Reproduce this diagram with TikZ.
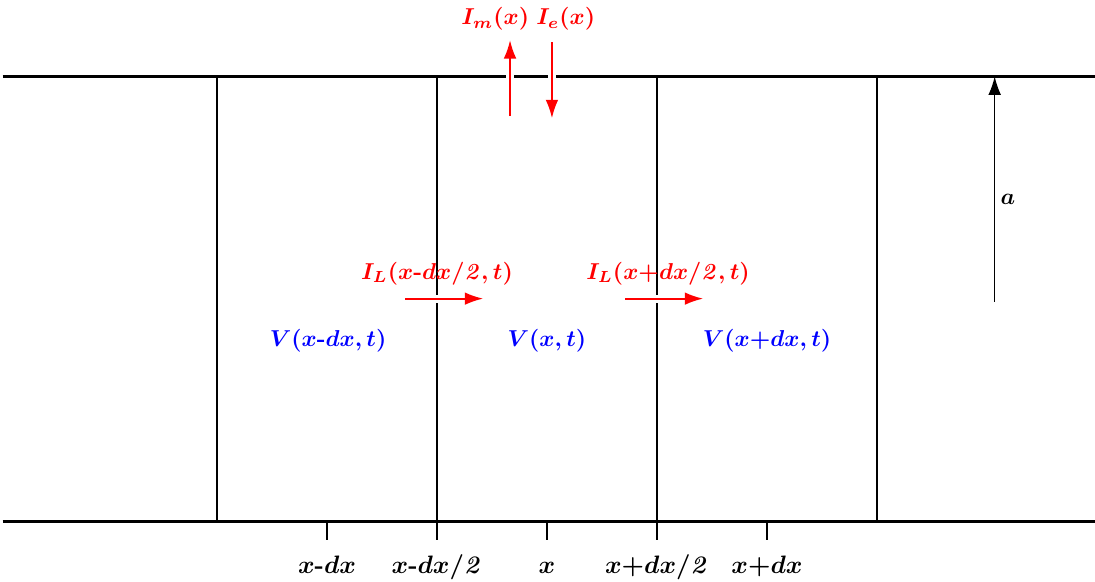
\documentclass[tikz,border=0pt]{standalone}
\usetikzlibrary{arrows.meta}
\begin{document}
\begin{tikzpicture}[x=1.68cm, y=1.68cm, font=\bfseries\boldmath,
        arr/.style={-{Latex[length=8pt, width=5.5pt]}},
        gap/.style={preaction={draw=white, line width=3.5pt, -}},
        poslab/.style={anchor=base, font=\fontsize{10.6}{12}\selectfont\bfseries\boldmath}]
        \useasboundingbox (-4.973,-0.545) rectangle (4.982,4.745);

        % membrane
        \draw[line width=1.3pt] (-4.95,0) -- (5,0);
        \draw[line width=1.3pt] (-4.95,4.05) -- (5,4.05);

        % compartment walls
        \foreach \x in {-3, -1, 1, 3} {
            \draw[thick] (\x,0) -- (\x,4.05);
        }

        % ticks and positions
        \foreach \x/\name/\lab in {-2/xm/{$x$-$dx$}, -1/xmh/{$x$-$dx/\mathit{2}$}, 0/x0/{$x$}, 1/xph/{$x{+}dx/\mathit{2}$}, 2/xp/{$x{+}dx$}} {
            \draw[thick] (\x,0) -- (\x,-0.16);
            \node[poslab] (\name) at (\x,-0.465) {\lab};
        }

        % potentials
        \node[blue] (Vm) at (-1.99,1.645) {$V(x$-$dx,t)$};
        \node[blue] (V0) at (0,1.645) {$V(x,t)$};
        \node[blue] (Vp) at (2,1.645) {$V(x{+}dx,t)$};

        % longitudinal currents
        \coordinate (La) at (-1.29,2.03);
        \coordinate (Lb) at (-0.58,2.03);
        \coordinate (Ra) at (0.71,2.03);
        \coordinate (Rb) at (1.42,2.03);
        \draw[red, thick, arr, gap] (La) -- (Lb);
        \draw[red, thick, arr, gap] (Ra) -- (Rb);
        \node[red] (ILm) at (-1,2.26) {$I_L(x$-$dx/\mathit{2},t)$};
        \node[red] (ILp) at (1.1,2.26) {$I_L(x{+}dx/\mathit{2},t)$};

        % membrane and electrode currents
        \coordinate (Ma) at (-0.336,3.69);
        \coordinate (Mb) at (-0.336,4.38);
        \coordinate (Ea) at (0.045,4.36);
        \coordinate (Eb) at (0.045,3.67);
        \draw[red, thick, arr, gap] (Ma) -- (Mb);
        \draw[red, thick, arr, gap] (Ea) -- (Eb);
        \node[red] (Im) at (-0.47,4.57) {$I_m(x)$};
        \node[red] (Ie) at (0.17,4.57) {$I_e(x)$};

        % radius
        \coordinate (Aa) at (4.07,2.0);
        \coordinate (Ab) at (4.07,4.05);
        \draw[semithick, arr] (Aa) -- node[midway, right, xshift=-1pt, yshift=-4.5pt] (rad) {$a$} (Ab);
    \end{tikzpicture}
\end{document}
